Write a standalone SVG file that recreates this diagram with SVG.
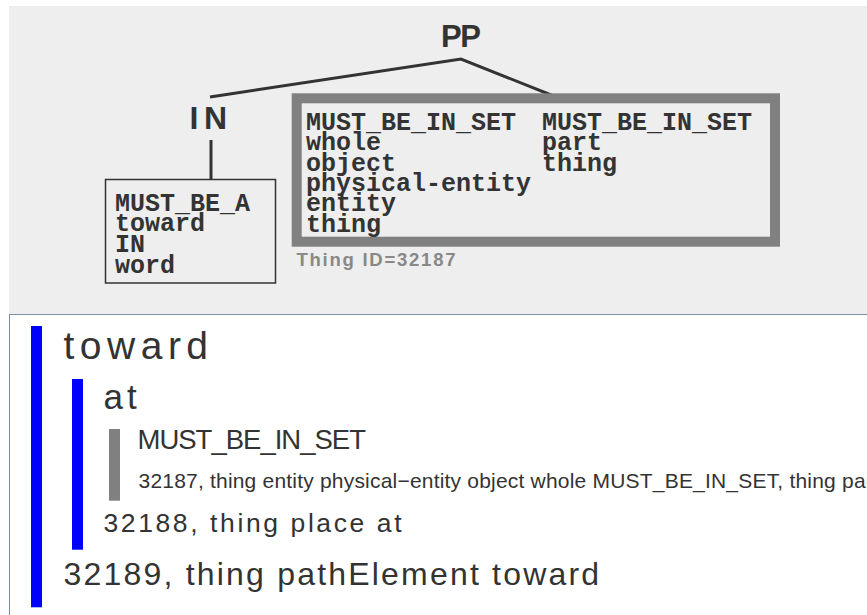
<svg xmlns="http://www.w3.org/2000/svg" width="867" height="615" viewBox="0 0 867 615">
  <style>
    .mono { font-family: "Liberation Mono", "Courier New", monospace; font-weight: bold; font-size: 25px; fill: #333333; }
    .cat { font-family: "Liberation Sans", Arial, sans-serif; font-weight: bold; fill: #333333; }
    .sans { font-family: "Liberation Sans", Arial, sans-serif; fill: #333333; }
    .edge { stroke: #333333; stroke-width: 3; fill: none; }
  </style>

  <!-- tree panel -->
  <rect x="9" y="6" width="858" height="308" fill="#eeeeee"/>

  <!-- list panel -->
  <rect x="9.5" y="314.5" width="858" height="302" fill="#ffffff" stroke="#7f8fa6" stroke-width="1"/>

  <!-- tree connectors -->
  <g id="connectors">
    <polyline class="edge" points="210,97 461,59 557.5,97.5"/>
    <line class="edge" x1="211" y1="140" x2="211" y2="180"/>
  </g>

  <g id="node-pp">
    <text class="cat" x="441" y="46.7" font-size="31" letter-spacing="-1.5">PP</text>
  </g>

  <g id="node-in">
    <text class="cat" x="189.5" y="129.3" font-size="32" letter-spacing="5.5">IN</text>
  </g>

  <g id="node-in-word">
    <rect x="105.5" y="179.5" width="170" height="103.5" fill="#eeeeee" stroke="#333333" stroke-width="1.5"/>
    <text class="mono" x="115" y="210.7">MUST_BE_A</text>
    <text class="mono" x="115" y="231.3">toward</text>
    <text class="mono" x="115" y="251.9">IN</text>
    <text class="mono" x="115" y="272.5">word</text>
  </g>

  <g id="node-thing">
    <rect x="296.7" y="98.3" width="478.3" height="143.4" fill="#eeeeee" stroke="#808080" stroke-width="10"/>
    <text class="mono" x="306" y="129.5">MUST_BE_IN_SET</text>
    <text class="mono" x="306" y="150">whole</text>
    <text class="mono" x="306" y="170.5">object</text>
    <text class="mono" x="306" y="191">physical-entity</text>
    <text class="mono" x="306" y="211.4">entity</text>
    <text class="mono" x="306" y="231.8">thing</text>
    <text class="mono" x="542" y="129.5">MUST_BE_IN_SET</text>
    <text class="mono" x="542" y="150">part</text>
    <text class="mono" x="542" y="170.5">thing</text>
    <text x="296.5" y="265.7" font-family="Liberation Sans, Arial, sans-serif" font-weight="bold" font-size="18.5" letter-spacing="1.75" fill="#888888">Thing ID=32187</text>
  </g>

  <!-- nested result list -->
  <g id="list-toward">
    <rect x="31" y="326" width="11" height="281.3" fill="#0000ff"/>
    <text class="sans" x="63.5" y="358.5" font-size="39" letter-spacing="5.5">toward</text>
    <text class="sans" x="63.5" y="585" font-size="32" letter-spacing="2.2">32189, thing pathElement toward</text>
  </g>

  <g id="list-at">
    <rect x="72" y="379" width="11" height="170.7" fill="#0000ff"/>
    <text class="sans" x="103.5" y="409.3" font-size="35" letter-spacing="4">at</text>
    <text class="sans" x="103.5" y="532.3" font-size="26.5" letter-spacing="2.6">32188, thing place at</text>
  </g>

  <g id="list-must-be-in-set">
    <rect x="109" y="429" width="11" height="71.7" fill="#808080"/>
    <text class="sans" x="137.5" y="449" font-size="27.5" letter-spacing="-1">MUST_BE_IN_SET</text>
    <text class="sans" x="138.5" y="488.3" font-size="21" letter-spacing="0.2">32187, thing entity physical−entity object whole MUST_BE_IN_SET, thing part</text>
  </g>
</svg>
